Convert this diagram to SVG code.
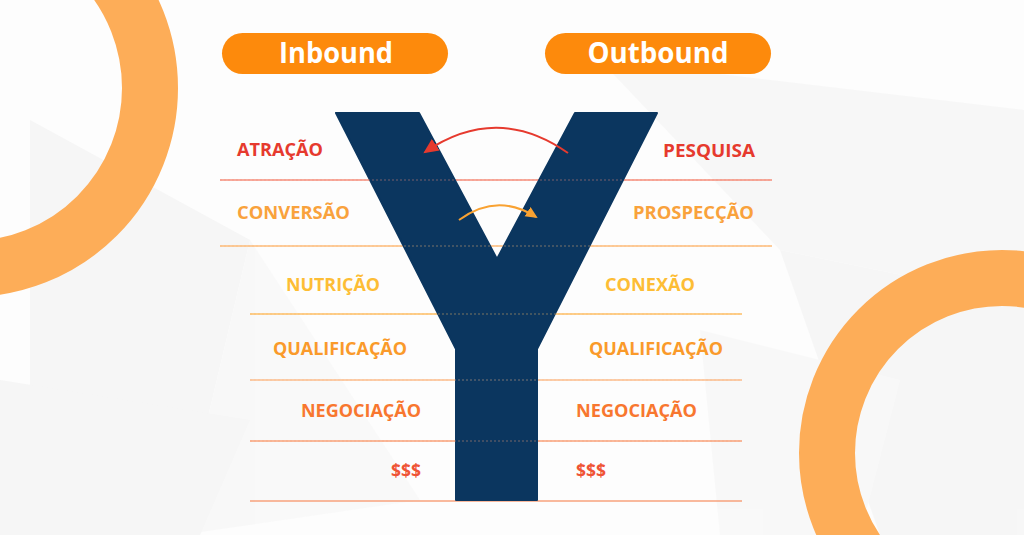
<svg xmlns="http://www.w3.org/2000/svg" width="1024" height="535" viewBox="0 0 1024 535">
<defs>
<style>
.lbl{font-family:"Open Sans","Noto Sans","DejaVu Sans",sans-serif;font-weight:700;font-size:18px}
.pilltxt{font-family:"Open Sans","Noto Sans","DejaVu Sans",sans-serif;font-weight:700;font-size:29px;fill:#ffffff}
.pill{fill:#fd8a0c}
.ring{fill:none;stroke:#fdad58;stroke-width:56}
.sep{stroke-width:1.6;fill:none}
</style>
<marker id="ahRed" markerUnits="userSpaceOnUse" markerWidth="18" markerHeight="16" refX="13" refY="7" orient="auto">
<path d="M0,0 L15,7 L0,14 z" fill="#e63a2e"/>
</marker>
<marker id="ahOrange" markerUnits="userSpaceOnUse" markerWidth="14" markerHeight="12" refX="10" refY="5.5" orient="auto">
<path d="M0,0 L12,5.5 L0,11 z" fill="#f9a232"/>
</marker>
</defs>
<rect width="1024" height="535" fill="#fdfdfd"/>
<g id="background" opacity="0.55">
<polygon points="30,120 250,240 180,535 30,535" fill="#f1f1f1"/>
<polygon points="250,240 420,500 180,535" fill="#f5f5f5"/>
<polygon points="600,60 1024,110 1024,300 780,250" fill="#f3f3f3"/>
<polygon points="780,250 1024,300 1024,535 880,535" fill="#f2f2f2"/>
<polygon points="0,380 250,420 200,535 0,535" fill="#f1f1f1"/>
<polygon points="700,330 900,380 860,535 720,535" fill="#f5f5f5"/>
</g>
<g id="rings">
<circle class="ring" cx="-31" cy="88" r="181"/>
<circle class="ring" cx="1002" cy="453" r="175"/>
</g>
<g id="pill-inbound">
<rect class="pill" x="222" y="33" width="226" height="41" rx="20.5"/>
<text class="pilltxt" x="336" y="63" text-anchor="middle" textLength="114" lengthAdjust="spacingAndGlyphs">Inbound</text>
</g>
<g id="pill-outbound">
<rect class="pill" x="545" y="33" width="226" height="41" rx="20.5"/>
<text class="pilltxt" x="658" y="63" text-anchor="middle" textLength="141" lengthAdjust="spacingAndGlyphs">Outbound</text>
</g>
<g id="separators">
<line class="sep" x1="220" y1="180" x2="772" y2="180" stroke="#f58e7b"/>
<line class="sep" x1="220" y1="246" x2="772" y2="246" stroke="#fdbb7a"/>
<line class="sep" x1="250" y1="314" x2="742" y2="314" stroke="#fdbe66"/>
<line class="sep" x1="250" y1="380" x2="742" y2="380" stroke="#fbbd8c"/>
<line class="sep" x1="250" y1="441" x2="742" y2="441" stroke="#f8a27a"/>
<line class="sep" x1="250" y1="501" x2="742" y2="501" stroke="#f7a27c"/>
</g>
<g id="y-shape">
<polygon points="336,113 419,113 497,259 575,113 657,113 537,349 537,500 456,500 456,349" fill="#0b365f" stroke="#0b365f" stroke-width="2" stroke-linejoin="round"/>
</g>
<g id="separator-overlay" opacity="0.3">
<line class="sep" x1="220" y1="180" x2="772" y2="180" stroke="#f58e7b" stroke-dasharray="2 2"/>
<line class="sep" x1="220" y1="246" x2="772" y2="246" stroke="#fdbb7a" stroke-dasharray="2 2"/>
<line class="sep" x1="250" y1="314" x2="742" y2="314" stroke="#fdbe66" stroke-dasharray="2 2"/>
<line class="sep" x1="250" y1="380" x2="742" y2="380" stroke="#fbbd8c" stroke-dasharray="2 2"/>
<line class="sep" x1="250" y1="441" x2="742" y2="441" stroke="#f8a27a" stroke-dasharray="2 2"/>
</g>
<g id="label-atracao"><text class="lbl" x="237" y="156" fill="#e63a2e" textLength="86" lengthAdjust="spacingAndGlyphs">ATRAÇÃO</text></g>
<g id="label-pesquisa"><text class="lbl" x="663" y="157" fill="#e63a2e" textLength="92" lengthAdjust="spacingAndGlyphs">PESQUISA</text></g>
<g id="label-conversao"><text class="lbl" x="237" y="219" fill="#f9a23c" textLength="113" lengthAdjust="spacingAndGlyphs">CONVERSÃO</text></g>
<g id="label-prospeccao"><text class="lbl" x="633" y="219" fill="#f9a23c" textLength="121" lengthAdjust="spacingAndGlyphs">PROSPECÇÃO</text></g>
<g id="label-nutricao"><text class="lbl" x="286" y="291" fill="#fdbd35" textLength="94" lengthAdjust="spacingAndGlyphs">NUTRIÇÃO</text></g>
<g id="label-conexao"><text class="lbl" x="605" y="291" fill="#fdbd35" textLength="90" lengthAdjust="spacingAndGlyphs">CONEXÃO</text></g>
<g id="label-qualificacao-in"><text class="lbl" x="273" y="355" fill="#fa9a2a" textLength="134" lengthAdjust="spacingAndGlyphs">QUALIFICAÇÃO</text></g>
<g id="label-qualificacao-out"><text class="lbl" x="589" y="355" fill="#fa9a2a" textLength="134" lengthAdjust="spacingAndGlyphs">QUALIFICAÇÃO</text></g>
<g id="label-negociacao-in"><text class="lbl" x="301" y="417" fill="#f8772f" textLength="120" lengthAdjust="spacingAndGlyphs">NEGOCIAÇÃO</text></g>
<g id="label-negociacao-out"><text class="lbl" x="576" y="417" fill="#f8772f" textLength="121" lengthAdjust="spacingAndGlyphs">NEGOCIAÇÃO</text></g>
<g id="label-money-in"><text class="lbl" x="391" y="477" fill="#ef5435" textLength="30" lengthAdjust="spacingAndGlyphs">$$$</text></g>
<g id="label-money-out"><text class="lbl" x="576" y="477" fill="#ef5435" textLength="30" lengthAdjust="spacingAndGlyphs">$$$</text></g>
<g id="connectors">
<path d="M568,153 Q497,103 425,152" fill="none" stroke="#e63a2e" stroke-width="2" marker-end="url(#ahRed)"/>
<path d="M459,220 Q497,192 536,217" fill="none" stroke="#f9a232" stroke-width="2" marker-end="url(#ahOrange)"/>
</g>
</svg>
